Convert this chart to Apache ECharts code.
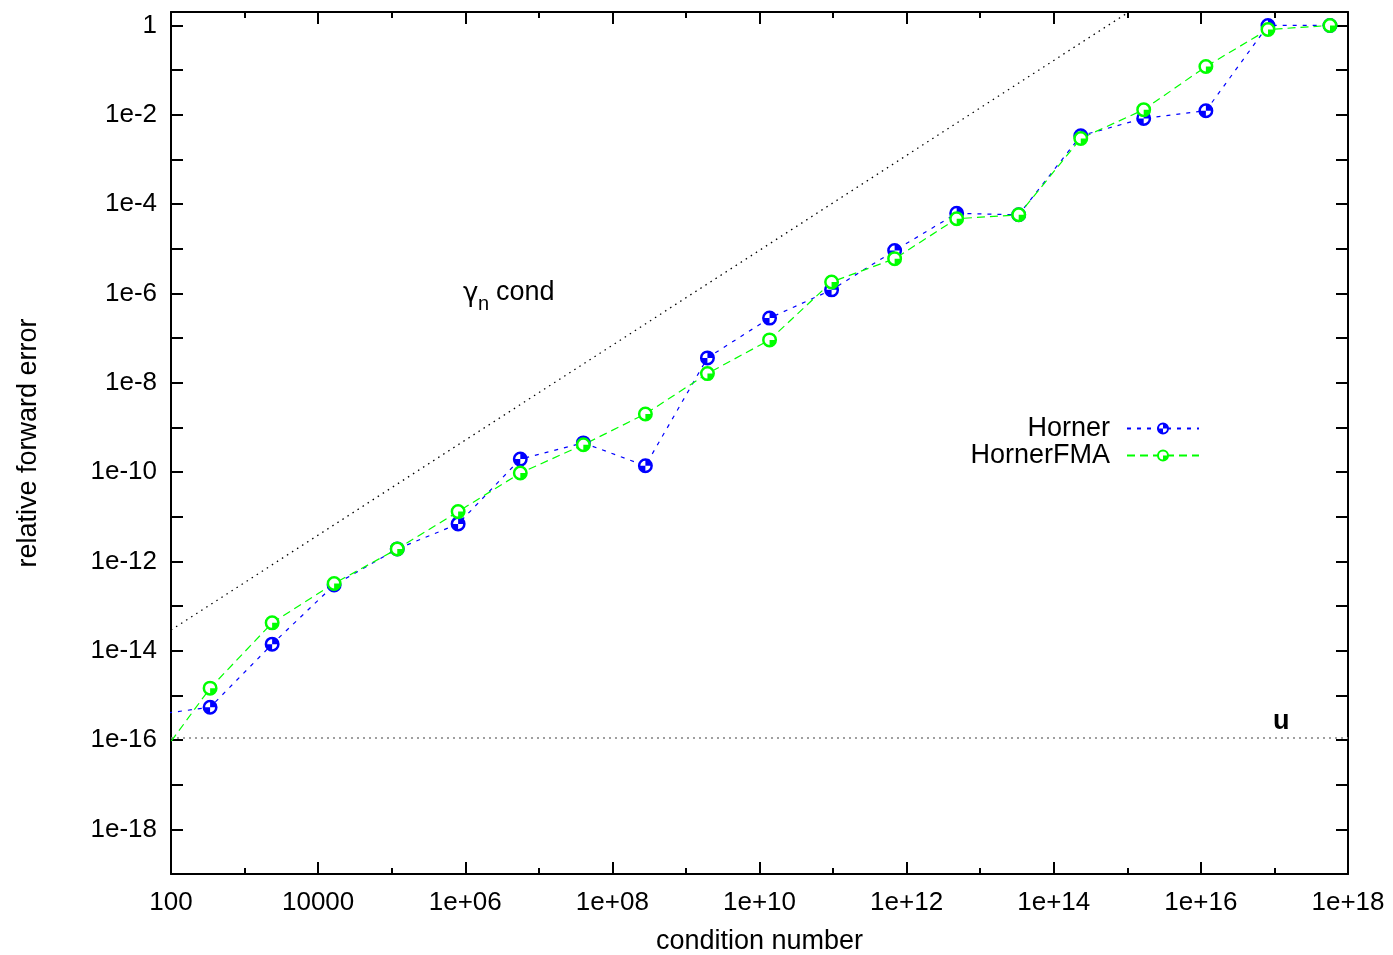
<!DOCTYPE html>
<html><head><meta charset="utf-8">
<script src="https://cdn.jsdelivr.net/npm/echarts@6/dist/echarts.min.js"></script>
<style>html,body{margin:0;padding:0;background:#fff}#c{width:1393px;height:955px}</style>
</head><body><div id="c"></div>
<script>
// condition numbers (x) — first point lies left of the plotted range and is clipped
const condNumbers = [4.9e1, 3.4e2, 2.37e3, 1.65e4, 1.19e5, 8.0e5, 5.6e6, 4.03e7, 2.81e8, 1.96e9,
  1.37e10, 9.55e10, 6.87e11, 4.79e12, 3.34e13, 2.33e14, 1.67e15, 1.17e16, 8.17e16, 5.69e17];
const hornerErr = [3.55e-16, 5.4e-16, 1.4e-14, 2.95e-13, 1.9e-12, 6.9e-12, 1.95e-10, 4.5e-10, 1.38e-10, 3.6e-8,
  2.8e-7, 1.2e-6, 9.1e-6, 6.2e-5, 5.75e-5, 3.4e-3, 8.3e-3, 1.23e-2, 1.0, 1.0];
const hornerFmaErr = [1.86e-17, 1.45e-15, 4.2e-14, 3.2e-13, 1.9e-12, 1.3e-11, 9.5e-11, 4.1e-10, 2.0e-9, 1.6e-8,
  9.1e-8, 1.8e-6, 6.0e-6, 4.7e-5, 5.75e-5, 2.95e-3, 1.3e-2, 0.12, 0.81, 1.0];
// gamma_n * cond bound line
const gammaCond = [1e2, 1e16];
const gammaBound = [2.9e-14, 22];
// unit roundoff line
const uRange = [1e2, 1e18];
const unitRoundoff = 1.11e-16;
// tick labels
const xTickLabels = ['100', '10000', '1e+06', '1e+08', '1e+10', '1e+12', '1e+14', '1e+16', '1e+18'];
const yTickLabels = ['1', '1e-2', '1e-4', '1e-6', '1e-8', '1e-10', '1e-12', '1e-14', '1e-16', '1e-18'];
const seriesNames = ['Horner', 'HornerFMA'];

const lg = Math.log10;
const toPts = (xs, ys) => xs.map((x, i) => [lg(x), lg(ys[i])]);
const FONT = '"Liberation Sans", Arial, Helvetica, sans-serif';

function svgSym(s) { return 'image://data:image/svg+xml;charset=utf-8,' + encodeURIComponent(s); }
const blueSym = svgSym("<svg xmlns='http://www.w3.org/2000/svg' width='32' height='32' viewBox='0 0 32 32'>" +
  "<circle cx='16' cy='16' r='12.5' fill='#ffffff' stroke='#0000ff' stroke-width='5'/>" +
  "<path d='M16 16 L16 3.5 A12.5 12.5 0 0 1 28.5 16 Z M16 16 L16 28.5 A12.5 12.5 0 0 1 3.5 16 Z' fill='#0000ff'/></svg>");
const greenSym = svgSym("<svg xmlns='http://www.w3.org/2000/svg' width='32' height='32' viewBox='0 0 32 32'>" +
  "<circle cx='16' cy='16' r='12.5' fill='#ffffff' stroke='#00ff00' stroke-width='5'/>" +
  "<path d='M16 16 L28.5 16 A12.5 12.5 0 0 1 16 28.5 Z' fill='#00ff00'/></svg>");

const axisLineStyle = { color: '#000', width: 2 };
const tickStyle = { color: '#000', width: 2 };
const xLabelFmt = v => { const i = Math.round((v - 2) / 2); return (Math.abs(v - (2 + 2 * i)) < 1e-9 && xTickLabels[i]) ? xTickLabels[i] : ''; };
const yLabelFmt = v => { const e = Math.round(v); if (Math.abs(v - e) > 1e-9 || e % 2 !== 0) return ''; return yTickLabels[-e / 2] || ''; };

const chart = echarts.init(document.getElementById('c'));
chart.setOption({
  animation: false,
  backgroundColor: '#fff',
  grid: { left: 171, top: 12, right: 45, bottom: 81, containLabel: false, outerBoundsMode: 'none' },
  xAxis: [{
    type: 'value', min: 2, max: 18, interval: 2, position: 'bottom',
    axisLine: { onZero: false, lineStyle: axisLineStyle },
    axisTick: { inside: true, length: 12, lineStyle: tickStyle },
    minorTick: { show: true, splitNumber: 2, length: 6, lineStyle: tickStyle },
    splitLine: { show: false },
    axisLabel: { formatter: xLabelFmt, margin: 16, fontSize: 26, color: '#000', fontFamily: FONT },
    name: 'condition number', nameLocation: 'middle', nameGap: 54,
    nameTextStyle: { fontSize: 27, color: '#000', fontFamily: FONT }
  }, {
    type: 'value', min: 2, max: 18, interval: 2, position: 'top',
    axisLine: { onZero: false, lineStyle: axisLineStyle },
    axisTick: { inside: true, length: 12, lineStyle: tickStyle },
    minorTick: { show: true, splitNumber: 2, length: 6, lineStyle: tickStyle },
    splitLine: { show: false }, axisLabel: { show: false }
  }],
  yAxis: [{
    type: 'value', min: -19, max: lg(2), interval: 1, position: 'left',
    axisLine: { onZero: false, lineStyle: axisLineStyle },
    axisTick: { inside: true, length: 12, lineStyle: tickStyle },
    splitLine: { show: false },
    axisLabel: { formatter: yLabelFmt, margin: 14, fontSize: 26, color: '#000', fontFamily: FONT },
    name: 'relative forward error', nameLocation: 'middle', nameGap: 129,
    nameTextStyle: { fontSize: 27, color: '#000', fontFamily: FONT }
  }, {
    type: 'value', min: -19, max: lg(2), interval: 1, position: 'right',
    axisLine: { onZero: false, lineStyle: axisLineStyle },
    axisTick: { inside: true, length: 12, lineStyle: tickStyle },
    splitLine: { show: false }, axisLabel: { show: false }
  }],
  legend: {
    data: seriesNames, orient: 'vertical', align: 'right', right: 188, top: 410,
    itemWidth: 72, itemHeight: 16, itemGap: 0, selectedMode: false,
    textStyle: { fontSize: 27, color: '#000', fontFamily: FONT, padding: [0, 12, 0, 0] }
  },
  series: [{
    name: 'gamma', type: 'line', silent: true, symbol: 'none', clip: true,
    data: toPts(gammaCond, gammaBound),
    lineStyle: { color: '#000', width: 1.3, type: [1.5, 4.5] }
  }, {
    name: 'u', type: 'line', silent: true, symbol: 'none', clip: true,
    data: toPts(uRange, [unitRoundoff, unitRoundoff]),
    lineStyle: { color: '#808080', width: 1.6, type: [2, 4] }
  }, {
    name: seriesNames[0], type: 'line', clip: true, symbol: blueSym, symbolSize: 16,
    data: toPts(condNumbers, hornerErr),
    itemStyle: { color: '#0000ff' },
    lineStyle: { color: '#0000ff', width: 1.2, type: [4, 6] }
  }, {
    name: seriesNames[1], type: 'line', clip: true, symbol: greenSym, symbolSize: 16,
    data: toPts(condNumbers, hornerFmaErr),
    itemStyle: { color: '#00ff00' },
    lineStyle: { color: '#00ff00', width: 1.2, type: [8, 5] }
  }],
  graphic: [
    { type: 'text', left: 463, top: 281, style: { text: 'γ', fontSize: 26, fontFamily: '"DejaVu Sans", sans-serif', fill: '#000' } },
    { type: 'text', left: 478, top: 294, style: { text: 'n', fontSize: 20, fontFamily: FONT, fill: '#000' } },
    { type: 'text', left: 496, top: 279, style: { text: 'cond', fontSize: 27, fontFamily: FONT, fill: '#000' } },
    { type: 'text', left: 1273, top: 708, style: { text: 'u', fontSize: 27, fontWeight: 'bold', fontFamily: FONT, fill: '#000' } }
  ]
});
</script></body></html>
